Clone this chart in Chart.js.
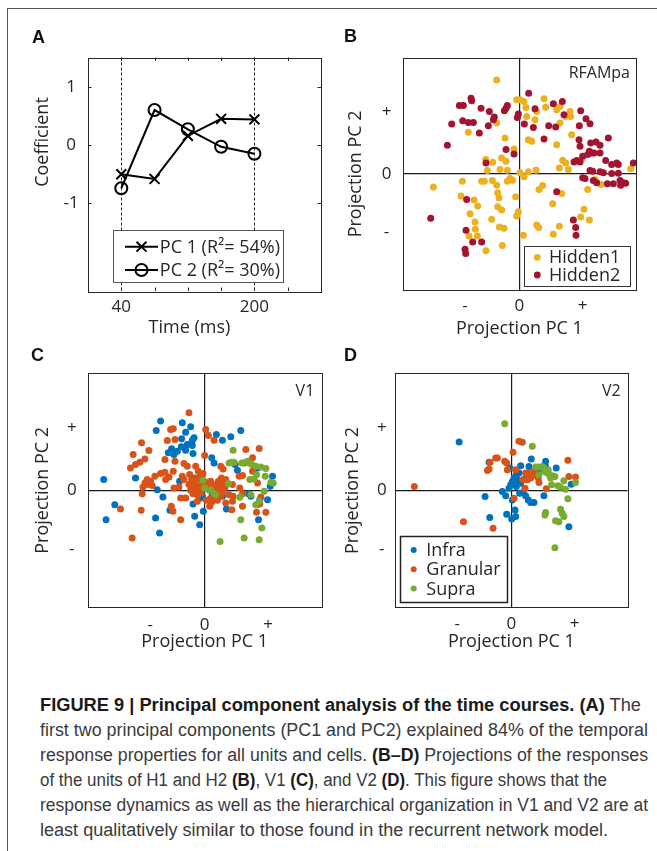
<!DOCTYPE html>
<html><head><meta charset="utf-8">
<script src="https://cdn.jsdelivr.net/npm/chart.js@4/dist/chart.umd.min.js"></script>
<style>
html,body{margin:0;padding:0;background:#fff;}
body{width:657px;height:851px;position:relative;overflow:hidden;}
#frame{position:absolute;left:7px;top:8px;width:700px;height:900px;border-left:1px solid #555;border-top:1px solid #555;}
canvas{position:absolute;}
.pl{position:absolute;font:bold 18px/18px "Liberation Sans",Arial,sans-serif;color:#111;}
#caption{position:absolute;left:40px;top:693px;font:18px/25px "Liberation Sans",Arial,sans-serif;color:#3a3a3a;white-space:nowrap;}
#caption span{display:inline-block;transform-origin:0 50%;}
#caption b{color:#1a1a1a;}
</style></head>
<body>
<div id="frame"></div>
<canvas id="cA" width="330" height="345" style="left:0;top:0"></canvas>
<canvas id="cB" width="327" height="345" style="left:330px;top:0"></canvas>
<canvas id="cC" width="330" height="330" style="left:0;top:340px"></canvas>
<canvas id="cD" width="327" height="330" style="left:330px;top:340px"></canvas>
<div class="pl" style="left:32px;top:28px">A</div>
<div class="pl" style="left:344px;top:27px">B</div>
<div class="pl" style="left:31px;top:346px">C</div>
<div class="pl" style="left:344px;top:346px">D</div>
<div id="caption"><span data-w="601"><b>FIGURE 9 | Principal component analysis of the time courses. (A)</b> The</span><br><span data-w="608">first two principal components (PC1 and PC2) explained 84% of the temporal</span><br><span data-w="608">response properties for all units and cells. <b>(B–D)</b> Projections of the responses</span><br><span data-w="567">of the units of H1 and H2 <b>(B)</b>, V1 <b>(C)</b>, and V2 <b>(D)</b>. This figure shows that the</span><br><span data-w="608">response dynamics as well as the hierarchical organization in V1 and V2 are at</span><br><span data-w="568">least qualitatively similar to those found in the recurrent network model.</span></div>
<script>
// ---------- Panel A data ----------
const timeMs = [40, 80, 120, 160, 200];
const pc1Coef = [-0.50, -0.58, 0.16, 0.45, 0.44];
const pc2Coef = [-0.74, 0.60, 0.27, -0.03, -0.15];
const timeTickValues = [0, 40, 80, 120, 160, 200, 240, 280];
const timeTickLabels = ['', '40', '', '', '', '200', '', ''];
const coefTickValues = [-1, 0, 1];
const coefTickLabels = ['-1', '0', '1'];
const pcLabels = ['PC 1 (R\u00B2= 54%)', 'PC 2 (R\u00B2= 30%)'];

// ---------- Panels B-D tick positions / labels (arbitrary projection units) ----------
const projTickValuesX = [-163, 0, 190];
const projTickValuesY = [-175, 0, 185];
const projTickLabels = ['-', '0', '+'];

// ---------- Panel B (RFAMpa) ----------
const hidden1 = [[-68,283],[-8,223],[2,223],[14,218],[74,226],[79,201],[20,200],[22,173],[52,188],[47,163],[112,193],[122,203],[152,188],[154,173],[139,173],[122,153],[-68,153],[-153,125],[-43,108],[27,103],[37,98],[157,118],[112,88],[-16,75],[-53,48],[-40,38],[-80,35],[-101,43],[-58,13],[-36,11],[-96,10],[130,41],[139,33],[147,13],[120,18],[2,3],[14,-9],[27,6],[50,11],[187,45],[334,15],[227,-17],[245,-32],[205,-47],[70,-35],[59,-47],[127,-59],[100,-90],[194,-107],[184,-130],[210,-139],[-28,-14],[-258,-40],[-171,-22],[-113,-22],[-105,-22],[-81,-20],[-68,-34],[-36,-22],[-20,-19],[-175,-67],[-136,-79],[-125,-97],[-148,-120],[-133,-145],[-132,-167],[-151,-187],[-126,-187],[-100,-232],[-65,-57],[-61,-72],[-65,-99],[-53,-109],[-83,-137],[-60,-160],[-46,-164],[-51,-216],[-11,-69],[-3,-114],[-8,-127],[12,-185],[52,-154],[58,-162],[102,-182],[120,-158]];
const hidden2 = [[28,243],[-145,228],[-143,220],[-180,206],[-168,206],[-115,198],[-90,188],[-36,206],[-40,198],[-45,190],[-75,171],[-78,163],[-93,145],[-153,155],[-138,155],[-170,160],[-203,150],[-120,123],[-216,86],[-6,170],[-3,180],[15,150],[47,196],[102,211],[129,218],[134,178],[184,190],[200,166],[212,151],[180,145],[88,145],[109,141],[42,140],[74,105],[179,103],[182,83],[267,108],[230,96],[214,93],[242,86],[210,68],[217,63],[205,58],[224,63],[242,63],[190,53],[172,40],[164,36],[182,36],[-40,73],[-16,60],[-100,33],[259,40],[292,33],[297,28],[277,28],[342,33],[212,10],[220,8],[242,6],[252,3],[277,1],[297,2],[190,-12],[197,-14],[222,-20],[232,-27],[264,-30],[282,-30],[302,-20],[312,-27],[304,-34],[319,-28],[112,-54],[-158,-77],[-266,-134],[162,-139],[169,-162],[170,-185],[-160,-170],[-140,-205],[-113,-205],[-163,-227],[-161,-240]];

// ---------- Panel C (V1) ----------
const v1Infra = [[-132,207],[-145,179],[-67,202],[-42,190],[-57,174],[-32,157],[-37,150],[-69,154],[-52,137],[-37,134],[-70,130],[-99,124],[-82,117],[-57,120],[-35,110],[-109,112],[-92,107],[35,167],[53,150],[78,160],[108,179],[21,97],[28,82],[98,60],[158,67],[203,42],[196,12],[-302,32],[-207,37],[-142,2],[-125,-20],[-30,37],[-7,30],[-12,4],[-7,-18],[-12,-23],[23,-13],[13,12],[53,-18],[-35,-41],[-4,-63],[-30,-78],[-15,-103],[-104,-60],[-147,-83],[-135,-128],[-269,-43],[-295,-88],[65,-56],[131,-10],[138,-18],[188,-28],[165,-28],[161,-88],[-75,27],[91,77]];
const v1Granular = [[-47,232],[-102,182],[-94,184],[-112,149],[-89,152],[-189,142],[-167,119],[-214,107],[-179,94],[-194,84],[-207,77],[-222,67],[-119,92],[-89,87],[-62,80],[-52,72],[-119,54],[-132,50],[-94,57],[-149,42],[-172,32],[-179,22],[-172,17],[-185,10],[-162,27],[-157,14],[-187,-10],[-117,32],[-107,40],[-92,7],[-77,10],[-67,42],[-62,32],[3,182],[11,164],[28,150],[0,104],[-27,72],[-45,47],[-37,37],[-39,32],[-32,24],[-25,32],[-17,37],[-12,44],[-5,50],[-19,57],[-27,12],[-35,7],[-42,0],[-29,-3],[-19,0],[-11,-8],[-22,-13],[-35,-10],[-47,17],[-12,14],[5,24],[11,17],[18,27],[23,12],[15,0],[28,2],[35,17],[41,27],[38,-10],[45,4],[31,-16],[18,-23],[5,-30],[21,-36],[38,-30],[48,-18],[55,-3],[61,10],[53,22],[63,32],[48,72],[55,64],[50,37],[73,-13],[83,17],[85,-18],[81,-58],[103,42],[113,44],[123,122],[163,125],[143,97],[118,82],[105,7],[113,-10],[143,57],[158,22],[168,-20],[165,-40],[158,-43],[183,-66],[155,-66],[-100,-48],[-95,-63],[-72,-23],[-57,-23],[-72,-88],[-190,-60],[-252,-56],[-217,-143],[-22,-33],[15,-48],[63,-38],[83,-33],[113,-48]];
const v1Supra = [[85,120],[73,82],[81,84],[88,84],[111,82],[128,87],[133,82],[141,77],[153,72],[168,70],[183,65],[155,47],[135,32],[148,34],[181,42],[198,24],[205,22],[71,20],[178,-3],[105,-21],[138,-13],[163,-33],[153,-43],[171,-113],[163,-148],[118,-143],[46,-153],[108,-88],[-5,30],[0,7],[18,2],[28,-10],[33,-13]];

// ---------- Panel D (V2) ----------
const v2Infra = [[-157,145],[-79,-18],[-65,-81],[-14,-71],[1,-85],[13,-78],[11,-58],[-27,-3],[-17,-16],[-7,7],[-2,17],[3,27],[8,37],[15,47],[23,52],[18,32],[28,22],[15,12],[25,-8],[35,-6],[43,-16],[51,-28],[58,-36],[68,-36],[28,74],[60,94],[53,72],[103,87],[103,72],[135,67],[98,-16],[180,19],[173,-108],[43,37],[-5,67],[3,-28],[-67,84],[73,52],[88,62]];
const v2Granular = [[-292,12],[-144,-93],[-55,-113],[-64,84],[-47,97],[-42,97],[-72,60],[-67,64],[-20,87],[-14,82],[5,114],[23,147],[33,144],[-12,62],[13,62],[8,-23],[41,7],[43,52],[51,52],[58,37],[48,32],[68,57],[83,24],[81,37],[105,5],[170,90],[173,42],[193,40],[63,44],[35,32]];
const v2Supra = [[-20,199],[63,132],[73,70],[83,70],[93,72],[101,57],[108,52],[115,47],[123,44],[131,42],[118,37],[83,47],[158,29],[140,14],[148,10],[163,4],[121,17],[193,24],[170,-25],[103,-66],[101,-73],[148,-56],[153,-68],[158,-78],[133,-90],[143,-93],[131,-171],[98,67],[111,62]];

// ---------- caption line fitting ----------
document.querySelectorAll('#caption span').forEach(s => {
  const w = s.getBoundingClientRect().width, target = +s.dataset.w;
  if (w > 0) s.style.transform = 'scaleX(' + (target / w).toFixed(4) + ')';
});

// ---------- styling ----------
const TXT = '#262626';
const FONT = '"Open Sans","Noto Sans",sans-serif';
const TICK = 17;
const COLORS = {hidden1:'#EDB120', hidden2:'#A2142F', infra:'#0072BD', granular:'#D95319', supra:'#77AC30'};
const toXY = arr => arr.map(p => ({x:p[0], y:p[1]}));

function drawMarker(ctx, style, r, x, y, lw){
  if (Chart.helpers && Chart.helpers.drawPoint){
    Chart.helpers.drawPoint(ctx, {pointStyle:style, radius:r, rotation:0, borderWidth:lw}, x, y);
    return;
  }
  ctx.beginPath(); ctx.arc(x,y,r,0,Math.PI*2); ctx.fill(); if(lw) ctx.stroke();
}

const framePlugin = {
  id:'frame',
  afterDatasetsDraw(chart, args, o){
    const {ctx, chartArea:a} = chart;
    ctx.save();
    ctx.strokeStyle = TXT; ctx.lineWidth = 1;
    ctx.strokeRect(Math.round(a.left)+0.5, Math.round(a.top)+0.5, Math.round(a.right-a.left), Math.round(a.bottom-a.top));
    if (o.innerTick){
      const L = o.innerTick, xs = chart.scales.x, ys = chart.scales.y;
      ctx.beginPath();
      xs.ticks.forEach(t => {
        if (t.value <= xs.min || t.value >= xs.max) return;
        const px = Math.round(xs.getPixelForValue(t.value)) + 0.5;
        ctx.moveTo(px, a.top); ctx.lineTo(px, a.top + L);
        ctx.moveTo(px, a.bottom); ctx.lineTo(px, a.bottom - L);
      });
      ys.ticks.forEach(t => {
        const py = Math.round(ys.getPixelForValue(t.value)) + 0.5;
        ctx.moveTo(a.left, py); ctx.lineTo(a.left + L, py);
        ctx.moveTo(a.right, py); ctx.lineTo(a.right - L, py);
      });
      ctx.stroke();
    }
    if (o.cornerText){
      ctx.fillStyle = TXT; ctx.font = '16px ' + FONT;
      ctx.textAlign = 'right'; ctx.textBaseline = 'middle';
      ctx.fillText(o.cornerText, a.right - o.cornerDx, a.top + o.cornerDy);
    }
    if (o.titles){
      ctx.fillStyle = TXT; ctx.font = '18px ' + FONT;
      ctx.textAlign = 'center'; ctx.textBaseline = 'middle';
      ctx.fillText(o.titles.x, a.left + o.titles.xdx, a.bottom + o.titles.xdy);
      ctx.save();
      ctx.translate(a.left + o.titles.ydx, a.top + o.titles.ydy);
      ctx.rotate(-Math.PI/2);
      ctx.fillText(o.titles.y, 0, 0);
      ctx.restore();
    }
    ctx.restore();
  }
};

const boxLegend = {
  id:'boxLegend',
  afterDraw(chart, args, o){
    if (!o || !o.w) return;
    const {ctx, chartArea:a} = chart;
    const bx = a.left + o.dx, by = a.bottom - o.db - o.h;
    ctx.save();
    ctx.fillStyle = '#fff';
    ctx.fillRect(bx, by, o.w, o.h);
    ctx.strokeStyle = o.boxColor || '#333'; ctx.lineWidth = o.boxLw || 1;
    ctx.strokeRect(Math.round(bx)+0.5, Math.round(by)+0.5, Math.round(o.w), Math.round(o.h));
    const ds = chart.data.datasets;
    o.items.forEach((di, k) => {
      const d = ds[di];
      const cy = by + o.firstRow + k * o.rowH;
      if (o.line){
        ctx.strokeStyle = d.borderColor; ctx.lineWidth = d.borderWidth;
        ctx.beginPath(); ctx.moveTo(bx + o.line[0], cy); ctx.lineTo(bx + o.line[1], cy); ctx.stroke();
      }
      ctx.fillStyle = d.pointBackgroundColor || d.backgroundColor;
      ctx.strokeStyle = d.pointBorderColor || d.borderColor || d.backgroundColor;
      ctx.lineWidth = d.pointBorderWidth || 0;
      drawMarker(ctx, d.pointStyle || 'circle', o.markerR || d.pointRadius, bx + o.markerX, cy, d.pointBorderWidth || 0);
      ctx.fillStyle = TXT; ctx.font = '18px ' + FONT;
      ctx.textAlign = 'left'; ctx.textBaseline = 'middle';
      ctx.fillText(d.label, bx + o.textX, cy + 1);
    });
    ctx.restore();
  }
};

// ---------- Panel A ----------
new Chart(document.getElementById('cA'), {
  type:'scatter',
  data:{datasets:[
    {label:pcLabels[0], data:timeMs.map((t,i)=>({x:t,y:pc1Coef[i]})), showLine:true,
     borderColor:'#000', borderWidth:2, pointStyle:'crossRot', pointRadius:7,
     pointBorderColor:'#000', pointBorderWidth:2, pointBackgroundColor:'rgba(0,0,0,0)'},
    {label:pcLabels[1], data:timeMs.map((t,i)=>({x:t,y:pc2Coef[i]})), showLine:true,
     borderColor:'#000', borderWidth:2, pointStyle:'circle', pointRadius:6,
     pointBorderColor:'#000', pointBorderWidth:2, pointBackgroundColor:'rgba(0,0,0,0)'}
  ]},
  options:{
    responsive:false, animation:false, events:[],
    layout:{padding:{left:0, top:57.5, right:9, bottom:0}},
    scales:{
      x:{type:'linear', min:0, max:280,
         afterBuildTicks:s=>{s.ticks = timeTickValues.map(v=>({value:v}));},
         afterFit:s=>{s.height = 54;},
         grid:{drawTicks:false, lineWidth:1, color:c => (c.tick && (c.tick.value===40 || c.tick.value===200)) ? TXT : 'rgba(0,0,0,0)'},
         border:{display:false, dash:[3,2]},
         ticks:{padding:5.8, autoSkip:false, maxRotation:0, color:TXT, font:{family:FONT,size:TICK}, callback:(v,i)=>timeTickLabels[i]}},
      y:{type:'linear', min:-2.5, max:1.5,
         afterBuildTicks:s=>{s.ticks = coefTickValues.map(v=>({value:v}));},
         afterFit:s=>{s.width = 88;},
         grid:{drawTicks:false, color:'rgba(0,0,0,0)'},
         border:{display:false},
         ticks:{padding:9.4, crossAlign:'center', autoSkip:false, color:TXT, font:{family:FONT,size:TICK}, callback:(v,i)=>coefTickLabels[i]}}
    },
    plugins:{
      legend:{display:false}, tooltip:{enabled:false},
      frame:{innerTick:3.5, titles:{x:'Time (ms)', xdx:101.5, xdy:37, y:'Coefficient', ydx:-45.5, ydy:84.5}},
      boxLegend:{dx:25.3, db:8.7, w:170, h:52.3, firstRow:16.7, rowH:23.3, line:[11.7,44.7], markerX:28.2, textX:46.5, boxColor:'#555', items:[0,1]}
    }
  },
  plugins:[framePlugin, boxLegend]
});

// ---------- Scatter panels ----------
function projChart(id, datasets, g){
  return new Chart(document.getElementById(id), {
    type:'scatter',
    data:{datasets},
    options:{
      responsive:false, animation:false, events:[],
      layout:{padding:{left:0, top:g.top, right:g.right, bottom:0}},
      scales:{
        x:{type:'linear', min:-350, max:350,
           afterBuildTicks:s=>{s.ticks = projTickValuesX.map(v=>({value:v}));},
           afterFit:s=>{s.height = g.xh;},
           grid:{drawTicks:false, lineWidth:1.2, color:c => (c.tick && c.tick.value===0) ? '#1a1a1a' : 'rgba(0,0,0,0)'},
           border:{display:false},
           ticks:{padding:g.xpad, autoSkip:false, maxRotation:0, color:TXT, font:{family:FONT,size:TICK}, callback:(v,i)=>projTickLabels[i]},
           title:{display:true, text:'Projection PC 1', color:TXT, font:{family:FONT,size:18}, padding:{top:0,bottom:g.xtp}}},
        y:{type:'linear', min:-350, max:350,
           afterBuildTicks:s=>{s.ticks = projTickValuesY.map(v=>({value:v}));},
           afterFit:s=>{s.width = g.yw;},
           grid:{drawTicks:false, lineWidth:1.2, color:c => (c.tick && c.tick.value===0) ? '#1a1a1a' : 'rgba(0,0,0,0)'},
           border:{display:false},
           ticks:{padding:g.ypad, crossAlign:'center', autoSkip:false, color:TXT, font:{family:FONT,size:TICK}, callback:(v,i)=>projTickLabels[i]},
           title:{display:true, text:'Projection PC 2', color:TXT, font:{family:FONT,size:18}, padding:{top:g.ytp,bottom:0}}}
      },
      plugins:{
        legend:{display:false}, tooltip:{enabled:false},
        frame:{cornerText:g.corner, cornerDx:g.cdx, cornerDy:g.cdy},
        boxLegend:g.legend
      }
    },
    plugins:[framePlugin, boxLegend]
  });
}
function dots(label, arr, color, order){
  return {label, data:toXY(arr), backgroundColor:color, pointBackgroundColor:color, pointBorderWidth:0, borderWidth:0, pointRadius:3.5, order};
}

projChart('cB', [dots('Hidden1', hidden1, COLORS.hidden1, 1), dots('Hidden2', hidden2, COLORS.hidden2, 0)],
  {top:57.7, right:21, xh:55, yw:72.7, xpad:6.4, ypad:11.3, xtp:5.2, ytp:14.7, corner:'RFAMpa', cdx:6, cdy:15.6,
   legend:{dx:121.6, db:4.3, w:106.4, h:40, firstRow:11.6, rowH:17.7, markerX:13, markerR:3.4, textX:24.7, boxColor:'#333', items:[0,1]}});

projChart('cC', [dots('Infra', v1Infra, COLORS.infra, 2), dots('Granular', v1Granular, COLORS.granular, 1), dots('Supra', v1Supra, COLORS.supra, 0)],
  {top:33.3, right:8.3, xh:62.7, yw:87.7, xpad:7.5, ypad:11.1, xtp:17.2, ytp:31.7, corner:'V1', cdx:7.4, cdy:18.4, legend:null});

projChart('cD', [dots('Infra', v2Infra, COLORS.infra, 2), dots('Granular', v2Granular, COLORS.granular, 1), dots('Supra', v2Supra, COLORS.supra, 0)],
  {top:33.3, right:29.3, xh:62.3, yw:65, xpad:6.6, ypad:8.4, xtp:17, ytp:12.2, corner:'V2', cdx:7, cdy:18.4,
   legend:{dx:5.3, db:6, w:106.7, h:66, firstRow:14.3, rowH:19.2, markerX:13.4, markerR:3, textX:26, boxColor:'#222', boxLw:1.5, items:[0,1,2]}});
</script>
</body></html>
